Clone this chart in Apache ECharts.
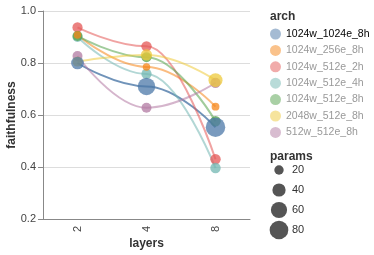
<!DOCTYPE html>
<html><head><meta charset="utf-8">
<script src="https://cdn.jsdelivr.net/npm/echarts@6/dist/echarts.min.js"></script>
<style>html,body{margin:0;padding:0;background:#fff}#c{width:374px;height:255px}</style>
</head><body><div id="c"></div>
<script>
const layers = ['2', '4', '8'];
const archs = ['1024w_1024e_8h', '1024w_256e_8h', '1024w_512e_2h', '1024w_512e_4h', '1024w_512e_8h', '2048w_512e_8h', '512w_512e_8h'];
const colors = ['#4c78a8', '#f58518', '#e45756', '#72b7b2', '#54a24b', '#eeca3b', '#b279a2'];

// faithfulness per arch, at layers 2, 4, 8
const faith_1024w_1024e_8h = [0.800, 0.710, 0.553];
const faith_1024w_256e_8h  = [0.908, 0.785, 0.632];
const faith_1024w_512e_2h  = [0.937, 0.864, 0.430];
const faith_1024w_512e_4h  = [0.900, 0.758, 0.396];
const faith_1024w_512e_8h  = [0.904, 0.822, 0.576];
const faith_2048w_512e_8h  = [0.805, 0.831, 0.734];
const faith_512w_512e_8h   = [0.827, 0.628, 0.724];

// params per arch, at layers 2, 4, 8
const params_1024w_1024e_8h = [37, 70, 87];
const params_1024w_256e_8h  = [13, 13, 14];
const params_1024w_512e_2h  = [24, 25, 25];
const params_1024w_512e_4h  = [23, 24, 25];
const params_1024w_512e_8h  = [23, 23, 25];
const params_2048w_512e_8h  = [22, 29, 45];
const params_512w_512e_8h   = [23, 23, 24];

const yTicks = [0.2, 0.4, 0.6, 0.8, 1.0];
const sizeTicks = ['20', '40', '60', '80'];

const faith = [faith_1024w_1024e_8h, faith_1024w_256e_8h, faith_1024w_512e_2h, faith_1024w_512e_4h, faith_1024w_512e_8h, faith_2048w_512e_8h, faith_512w_512e_8h];
const params = [params_1024w_1024e_8h, params_1024w_256e_8h, params_1024w_512e_2h, params_1024w_512e_4h, params_1024w_512e_8h, params_2048w_512e_8h, params_512w_512e_8h];
// point drawing order (bottom to top)
const drawOrder = ['1024w_512e_2h', '1024w_512e_4h', '1024w_512e_8h', '1024w_256e_8h', '512w_512e_8h', '2048w_512e_8h', '1024w_1024e_8h'];

const FONT = '"Liberation Sans", Arial, Helvetica, sans-serif';
function sizeOf(v) { return 2 * Math.sqrt(3.43 * v / Math.PI); }

const series = [];
archs.forEach((a, i) => {
  series.push({
    name: a, type: 'line', smooth: 0.45, smoothMonotone: 'x',
    showSymbol: false, symbol: 'none', silent: true, z: 1,
    data: faith[i],
    lineStyle: { color: colors[i], width: 2, opacity: i === 0 ? 0.8 : 0.55 },
    itemStyle: { color: colors[i] }
  });
});
drawOrder.forEach((a, k) => {
  const i = archs.indexOf(a);
  series.push({
    name: a, type: 'scatter', z: 2 + k * 0.01,
    data: faith[i].map((v, j) => [layers[j], v, params[i][j]]),
    symbolSize: d => sizeOf(d[2]),
    itemStyle: { color: colors[i], opacity: 0.75 }
  });
});
series.push({
  type: 'scatter', xAxisIndex: 1, yAxisIndex: 1, silent: true,
  data: sizeTicks.map(t => [0, t]),
  symbolSize: d => sizeOf(Number(d[1])),
  itemStyle: { color: '#555', opacity: 1 }
});

const chart = echarts.init(document.getElementById('c'), null, { renderer: 'canvas' });
chart.setOption({
  animation: false,
  backgroundColor: '#fff',
  textStyle: { fontFamily: FONT },
  title: [
    { text: 'arch', left: 270, top: 11, padding: 0, textStyle: { fontSize: 12, fontWeight: 'bold', color: '#333', fontFamily: FONT } },
    { text: 'params', left: 270, top: 151, padding: 0, textStyle: { fontSize: 12, fontWeight: 'bold', color: '#333', fontFamily: FONT } }
  ],
  legend: {
    orient: 'vertical', left: 270, top: 28.5, padding: 0,
    itemWidth: 11, itemHeight: 11, itemGap: 5.4,
    icon: 'circle',
    itemStyle: { opacity: 0.5 },
    textStyle: { fontSize: 10.5, fontFamily: FONT, color: '#999' },
    data: archs.map((a, i) => ({ name: a, icon: 'circle', textStyle: { color: i === 0 ? '#000' : '#999' } })),
    selectedMode: false
  },
  grid: [
    { left: 43, top: 11, width: 207, height: 208, containLabel: false, outerBoundsMode: 'none' },
    { left: 270, top: 160, width: 18, height: 80, containLabel: false, outerBoundsMode: 'none' }
  ],
  xAxis: [
    {
      type: 'category', data: layers, boundaryGap: true,
      name: 'layers', nameLocation: 'middle', nameGap: 19, nameMoveOverlap: false,
      nameTextStyle: { fontSize: 12, fontWeight: 'bold', color: '#333', fontFamily: FONT },
      axisLine: { lineStyle: { color: '#888', width: 1 } },
      axisTick: { alignWithLabel: true, length: 5, lineStyle: { color: '#888' } },
      axisLabel: { rotate: 90, margin: 7, fontSize: 11, color: '#444', fontFamily: FONT },
      splitLine: { show: false }
    },
    { type: 'category', gridIndex: 1, data: [''], show: false }
  ],
  yAxis: [
    {
      type: 'value', min: 0.2, max: 1.0, interval: 0.2,
      name: 'faithfulness', nameLocation: 'middle', nameGap: 25, nameMoveOverlap: false,
      nameTextStyle: { fontSize: 12, fontWeight: 'bold', color: '#333', fontFamily: FONT },
      axisLine: { show: true, lineStyle: { color: '#888', width: 1 } },
      axisTick: { show: true, length: 5, lineStyle: { color: '#888' } },
      axisLabel: { margin: 7, fontSize: 11, color: '#444', fontFamily: FONT, formatter: v => v.toFixed(1) },
      splitLine: { show: true, lineStyle: { color: '#ddd', width: 1 } }
    },
    {
      type: 'category', gridIndex: 1, data: sizeTicks, inverse: true, position: 'right',
      axisLine: { show: false }, axisTick: { show: false }, splitLine: { show: false },
      axisLabel: { margin: 4, fontSize: 11, color: '#333', fontFamily: FONT }
    }
  ],
  series: series
});
</script>
</body></html>
